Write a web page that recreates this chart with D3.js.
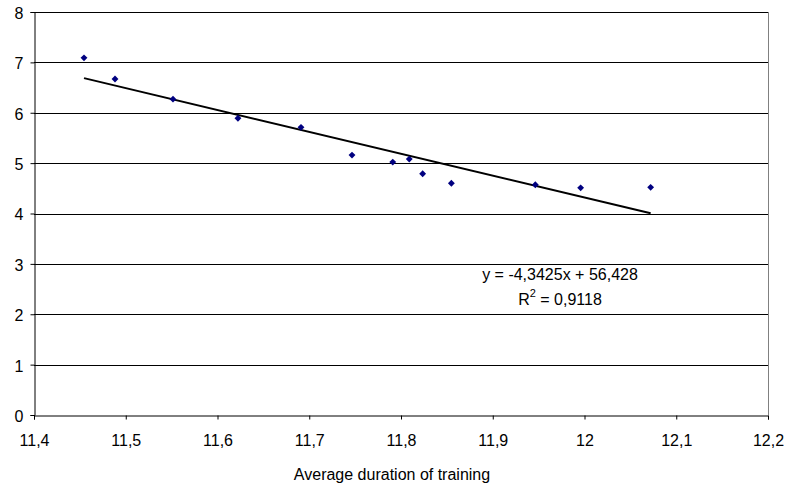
<!DOCTYPE html>
<html>
<head>
<meta charset="utf-8">
<script src="https://cdn.jsdelivr.net/npm/d3@7"></script>
<style>
  body { margin: 0; background: #fff; }
  text { font-family: "Liberation Sans", Arial, sans-serif; fill: #000; }
</style>
</head>
<body>
<svg id="chart" width="788" height="486"></svg>
<script>
// average duration of training vs value
const xValues = [11.4545, 11.4883, 11.5515, 11.6223, 11.691, 11.7466, 11.791, 11.809, 11.8236, 11.8549, 11.9464, 11.9958, 12.0721];
const yValues = [7.09, 6.67, 6.27, 5.89, 5.71, 5.16, 5.02, 5.08, 4.79, 4.60, 4.57, 4.51, 4.52];
const trend = { slope: -4.3425, intercept: 56.428, r2: "0,9118" };
const xTicks = [11.4, 11.5, 11.6, 11.7, 11.8, 11.9, 12, 12.1, 12.2];
const yTicks = [0, 1, 2, 3, 4, 5, 6, 7, 8];
const xTitle = "Average duration of training";

const fmt = v => String(+v.toFixed(1)).replace(".", ",");

const margin = { top: 12, right: 20, bottom: 71, left: 34 };
const width = 788, height = 486;

const svg = d3.select("#chart");

const x = d3.scaleLinear().domain([11.4, 12.2]).range([margin.left, width - margin.right]);
const y = d3.scaleLinear().domain([0, 8]).range([height - margin.bottom, margin.top]);

//gridlines
svg.append("g")
    .selectAll("line")
    .data(yTicks.filter(d => d > 0))
    .join("line")
    .attr("x1", x(11.4)).attr("x2", x(12.2))
    .attr("y1", d => Math.round(y(d)) + 0.5).attr("y2", d => Math.round(y(d)) + 0.5)
    .attr("stroke", "#000")
    .attr("stroke-width", 1);

//right border of plot area
svg.append("line")
    .attr("x1", Math.round(x(12.2)) + 0.5).attr("x2", Math.round(x(12.2)) + 0.5)
    .attr("y1", y(8)).attr("y2", y(0))
    .attr("stroke", "#808080");

//axes
const xAxis = svg.append("g")
    .attr("transform", `translate(0,${Math.round(y(0)) + 0.5})`)
    .call(d3.axisBottom(x).tickValues(xTicks).tickFormat(fmt).tickSize(4).tickPadding(15));

const yAxis = svg.append("g")
    .attr("transform", `translate(${Math.round(x(11.4)) + 0.5},0)`)
    .call(d3.axisLeft(y).tickValues(yTicks).tickFormat(d => d).tickSize(4).tickPadding(7));

for (const g of [xAxis, yAxis]) {
    g.select(".domain").attr("stroke", "#000");
    g.selectAll(".tick line").attr("stroke", "#000");
    g.selectAll(".tick text")
        .style("font-family", "Liberation Sans, Arial, sans-serif")
        .style("font-size", "16px")
        .attr("fill", "#000");
}
yAxis.selectAll(".tick text").attr("dy", "0.4em");

//trend line
const [x0, x1] = d3.extent(xValues);
svg.append("line")
    .attr("x1", x(x0)).attr("y1", y(trend.slope * x0 + trend.intercept))
    .attr("x2", x(x1)).attr("y2", y(trend.slope * x1 + trend.intercept))
    .attr("stroke", "#000")
    .attr("stroke-width", 2);

//points
svg.append("g")
    .selectAll("path")
    .data(xValues.map((v, i) => [v, yValues[i]]))
    .join("path")
    .attr("d", d3.symbol(d3.symbolDiamond2, 30))
    .attr("transform", d => `translate(${x(d[0])},${y(d[1])})`)
    .attr("fill", "#000080");

//trend label
const label = svg.append("text")
    .attr("text-anchor", "middle")
    .style("font-size", "16px");
label.append("tspan").attr("x", 560).attr("y", 280)
    .text(`y = ${String(trend.slope).replace(".", ",")}x + ${String(trend.intercept).replace(".", ",")}`);
const r2 = label.append("tspan").attr("x", 560).attr("y", 305);
r2.append("tspan").text("R");
r2.append("tspan").attr("dy", -8).style("font-size", "11px").text("2");
r2.append("tspan").attr("dy", 8).text(` = ${trend.r2}`);

//axis title
svg.append("text")
    .attr("x", (x(11.4) + x(12.2)) / 2 - 9)
    .attr("y", 480)
    .attr("text-anchor", "middle")
    .style("font-size", "16px")
    .text(xTitle);
</script>
</body>
</html>
